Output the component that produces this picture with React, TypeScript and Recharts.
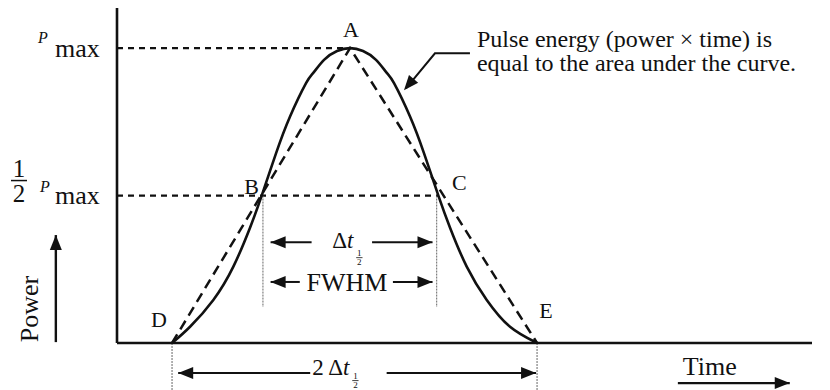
import React from "react";
import { LineChart, Line, XAxis, YAxis, ReferenceLine, ReferenceDot } from "recharts";

// pulse profile (time in arbitrary units, power as fraction of Pmax)
const curveTime = [7.92, 10.51, 13.86, 16.74, 19.14, 20.82, 22.88, 24.9, 27.2, 28.21, 29.79, 31.66, 33.53, 35.4, 37.27, 38.85, 39.86, 42.16, 44.18, 46.24, 47.92, 50.32, 53.2, 56.55, 60.44];
const curvePower = [0, 0.055, 0.146, 0.259, 0.391, 0.5, 0.643, 0.768, 0.881, 0.915, 0.96, 0.99, 1, 0.99, 0.96, 0.915, 0.881, 0.768, 0.643, 0.5, 0.391, 0.259, 0.146, 0.055, 0];

// triangular approximation D-A-E
const triangleTime = [7.92, 33.53, 60.44];
const trianglePower = [0, 1, 0];

const pointNames = ["A", "B", "C", "D", "E"];
const pointTime = [33.53, 20.82, 46.24, 7.92, 60.44];
const pointPower = [1, 0.5, 0.5, 0, 0];

const powerTicks = [0.5, 1];

const curveData = curveTime.map((t, i) => ({ t, p: curvePower[i] }));
const triangleData = triangleTime.map((t, i) => ({ t, p: trianglePower[i] }));

const INK = "#111";
const FONT = "'Liberation Serif', 'Times New Roman', Times, 'DejaVu Serif', 'Noto Serif', serif";
const serif: React.CSSProperties = { fontFamily: FONT };

// label offsets (px) relative to each point
const labelOffset: Record<string, [number, number]> = {
  A: [1, -11],
  B: [-10, -2],
  C: [21, -6],
  D: [-13, -16],
  E: [9, -25],
};

function head(x1: number, y1: number, x2: number, y2: number, len = 15, half = 6) {
  const a = Math.atan2(y2 - y1, x2 - x1);
  const bx = x2 - len * Math.cos(a);
  const by = y2 - len * Math.sin(a);
  const nx = -Math.sin(a) * half;
  const ny = Math.cos(a) * half;
  return `${x2},${y2} ${bx + nx},${by + ny} ${bx - nx},${by - ny}`;
}

// line with arrowhead at the second point
const arrowShape = (w = 2) => (p: any) => (
  <g>
    <line x1={p.x1} y1={p.y1} x2={p.x2} y2={p.y2} stroke={INK} strokeWidth={w} />
    <polygon points={head(p.x1, p.y1, p.x2, p.y2)} fill={INK} />
  </g>
);

function Half({ x, y, size }: { x: number; y: number; size: number }) {
  // small stacked 1/2 used as subscript
  return (
    <g fontSize={size} textAnchor="middle" style={serif}>
      <text x={x} y={y}>1</text>
      <line x1={x - size * 0.35} x2={x + size * 0.35} y1={y + 1.5} y2={y + 1.5} stroke={INK} strokeWidth={0.8} />
      <text x={x} y={y + size}>2</text>
    </g>
  );
}

function PowerTick(props: any) {
  const { x, y, payload } = props;
  if (payload.value === 1) {
    return (
      <g style={serif} fill={INK}>
        <text x={x - 79} y={y - 5} fontSize={16} fontStyle="italic">P</text>
        <text x={x - 62} y={y + 9} fontSize={26}>max</text>
      </g>
    );
  }
  return (
    <g style={serif} fill={INK}>
      <text x={x - 98} y={y - 19} fontSize={25} textAnchor="middle">1</text>
      <line x1={x - 106} x2={x - 90} y1={y - 15} y2={y - 15} stroke={INK} strokeWidth={1.5} />
      <text x={x - 98} y={y + 6} fontSize={25} textAnchor="middle">2</text>
      <text x={x - 77} y={y - 4} fontSize={16} fontStyle="italic">P</text>
      <text x={x - 62} y={y + 8} fontSize={26}>max</text>
    </g>
  );
}

export default function App() {
  return (
    <div style={{ position: "absolute", left: 0, top: 0, width: 830, height: 390, background: "#fff", fontFamily: FONT }}>
      <LineChart width={830} height={390} margin={{ top: 8, right: 18, bottom: 0, left: 0 }}>
        <XAxis
          type="number"
          dataKey="t"
          domain={[0, 100]}
          ticks={[0, 100]}
          allowDataOverflow
          tick={false}
          tickLine={false}
          height={47}
          axisLine={{ stroke: INK, strokeWidth: 2.6 }}
        />
        <YAxis
          type="number"
          dataKey="p"
          domain={[0, 1.136]}
          ticks={powerTicks}
          allowDataOverflow
          width={117}
          tickSize={0}
          tickMargin={0}
          tickLine={false}
          tick={<PowerTick />}
          axisLine={{ stroke: INK, strokeWidth: 2.6 }}
        />

        {/* Pmax and half-max guide lines */}
        <ReferenceLine segment={[{ x: 0, y: 1 }, { x: pointTime[0], y: 1 }]} stroke={INK} strokeWidth={2.2} strokeDasharray="6 5" />
        <ReferenceLine segment={[{ x: 0, y: 0.5 }, { x: pointTime[2], y: 0.5 }]} stroke={INK} strokeWidth={2.2} strokeDasharray="6 5" />

        {/* thin drop lines */}
        <ReferenceLine segment={[{ x: 21.0, y: 0.5 }, { x: 21.0, y: 0.122 }]} stroke="#666" strokeWidth={1} strokeDasharray="2 1" />
        <ReferenceLine segment={[{ x: 46.0, y: 0.5 }, { x: 46.0, y: 0.122 }]} stroke="#666" strokeWidth={1} strokeDasharray="2 1" />
        <ReferenceLine ifOverflow="visible" segment={[{ x: pointTime[3], y: 0 }, { x: pointTime[3], y: -0.16 }]} stroke="#666" strokeWidth={1} strokeDasharray="2 1" />
        <ReferenceLine ifOverflow="visible" segment={[{ x: pointTime[4], y: 0 }, { x: pointTime[4], y: -0.16 }]} stroke="#666" strokeWidth={1} strokeDasharray="2 1" />

        <Line data={triangleData} dataKey="p" type="linear" stroke={INK} strokeWidth={2.5} strokeDasharray="10 6" dot={false} isAnimationActive={false} />
        <Line data={curveData} dataKey="p" type="natural" stroke={INK} strokeWidth={2.6} dot={false} isAnimationActive={false} />

        {/* width arrows */}
        <ReferenceLine segment={[{ x: 28.0, y: 0.342 }, { x: 22.1, y: 0.342 }]} shape={arrowShape()} />
        <ReferenceLine segment={[{ x: 36.7, y: 0.342 }, { x: 45.4, y: 0.342 }]} shape={arrowShape()} />
        <ReferenceLine segment={[{ x: 26.3, y: 0.207 }, { x: 22.1, y: 0.207 }]} shape={arrowShape()} />
        <ReferenceLine segment={[{ x: 39.7, y: 0.207 }, { x: 45.4, y: 0.207 }]} shape={arrowShape()} />
        <ReferenceLine ifOverflow="visible" segment={[{ x: 27.8, y: -0.102 }, { x: 8.8, y: -0.102 }]} shape={arrowShape()} />
        <ReferenceLine ifOverflow="visible" segment={[{ x: 38.8, y: -0.102 }, { x: 60.3, y: -0.102 }]} shape={arrowShape()} />

        {/* axis name arrows */}
        <ReferenceLine ifOverflow="visible" segment={[{ x: 80.7, y: -0.136 }, { x: 96.8, y: -0.136 }]} shape={arrowShape(2.4)} />
        <ReferenceLine ifOverflow="visible" segment={[{ x: -8.8, y: 0.003 }, { x: -8.8, y: 0.366 }]} shape={arrowShape(2.4)} />

        {pointNames.map((name, i) => (
          <ReferenceDot
            key={name}
            x={pointTime[i]}
            y={pointPower[i]}
            ifOverflow="visible"
            shape={(p: any) => (
              <text x={p.cx + labelOffset[name][0]} y={p.cy + labelOffset[name][1]} textAnchor="middle" style={serif} fontSize={22} fill={INK}>
                {name}
              </text>
            )}
          />
        ))}

        {/* Δt½ and FWHM */}
        <ReferenceDot
          x={33.0}
          y={0.342}
          shape={(p: any) => (
            <g style={serif} fill={INK}>
              <text x={p.cx + 7} y={p.cy + 6} fontSize={23} textAnchor="end">
                Δ<tspan fontStyle="italic">t</tspan>
              </text>
              <Half x={p.cx + 13} y={p.cy + 14} size={9} />
            </g>
          )}
        />
        <ReferenceDot
          x={33.1}
          y={0.207}
          shape={(p: any) => (
            <text x={p.cx} y={p.cy + 9} style={serif} fontSize={26} textAnchor="middle" fill={INK}>
              FWHM
            </text>
          )}
        />
        <ReferenceDot
          x={32.0}
          y={-0.102}
          ifOverflow="visible"
          shape={(p: any) => (
            <g style={serif} fill={INK}>
              <text x={p.cx + 10} y={p.cy + 2} fontSize={23} textAnchor="end">
                2 Δ<tspan fontStyle="italic">t</tspan>
              </text>
              <Half x={p.cx + 16} y={p.cy + 6} size={9} />
            </g>
          )}
        />

        {/* axis names */}
        <ReferenceDot
          x={81.4}
          y={-0.108}
          ifOverflow="visible"
          shape={(p: any) => (
            <text x={p.cx} y={p.cy} style={serif} fontSize={26} fill={INK}>
              Time
            </text>
          )}
        />
        <ReferenceDot
          x={-12.5}
          y={0.115}
          ifOverflow="visible"
          shape={(p: any) => (
            <text x={p.cx} y={p.cy} transform={`rotate(-90 ${p.cx} ${p.cy})`} dy={8} style={serif} fontSize={26} textAnchor="middle" fill={INK}>
              Power
            </text>
          )}
        />

        {/* pulse energy note with leader arrow to the curve */}
        <ReferenceDot
          x={41.0}
          y={0.85}
          shape={(p: any) => (
            <g style={serif} fill={INK}>
              <polyline points={`${p.cx + 68},${p.cy - 39} ${p.cx + 33},${p.cy - 39} ${p.cx + 4},${p.cy - 4}`} fill="none" stroke={INK} strokeWidth={2} />
              <polygon points={head(p.cx + 33, p.cy - 39, p.cx + 2, p.cy - 2, 15, 6)} fill={INK} />
              <text x={p.cx + 75} y={p.cy - 45} fontSize={24}>
                <tspan x={p.cx + 75}>Pulse energy (power × time) is</tspan>
                <tspan x={p.cx + 75} dy={24}>equal to the area under the curve.</tspan>
              </text>
            </g>
          )}
        />
      </LineChart>
    </div>
  );
}
